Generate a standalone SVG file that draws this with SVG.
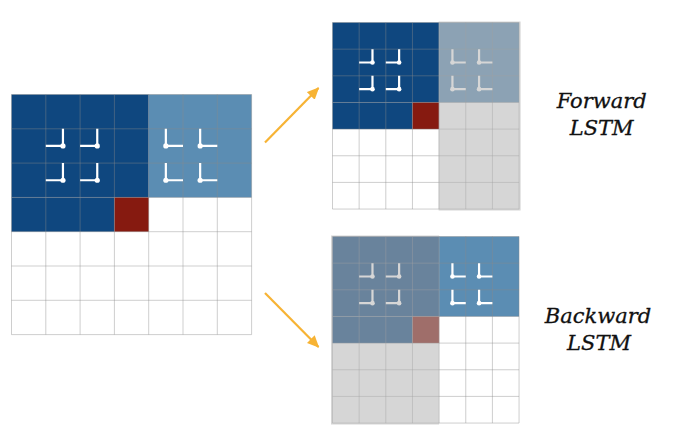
<svg xmlns="http://www.w3.org/2000/svg" width="681" height="438" viewBox="0 0 681 438">
<defs>
<style>
.bg{fill:#ffffff}
.dk{fill:#0f477f}
.lt{fill:#5b8db3}
.rd{fill:#861a10}
.gl{fill:none;stroke:#8a8a8a;stroke-opacity:0.42;stroke-width:1}
.gy{fill:none;stroke:#ffffff;stroke-width:2.2;stroke-linecap:butt}
.dot{fill:#ffffff}
.ov{fill:#b5b5b5;fill-opacity:0.55}
.arr{fill:none;stroke:#f7b334;stroke-width:2.2}
.lbl{font-family:"DejaVu Serif",serif;font-style:italic;font-size:21px;fill:#111111;stroke:#111111;stroke-width:0.3;text-anchor:middle}
</style>
<marker id="ah" markerUnits="userSpaceOnUse" markerWidth="12" markerHeight="12" viewBox="0 0 12 12" refX="11" refY="6" orient="auto">
<path d="M0,0.5 L12,6 L0,11.5 z" fill="#f7b334"/>
</marker>
</defs>
<rect width="681" height="438" fill="#ffffff"/>

<g id="input-grid">
<rect class="bg" x="11.5" y="94.5" width="240.1" height="240.1"/>
<rect class="dk" x="11.5" y="94.5" width="137.2" height="102.9"/>
<rect class="dk" x="11.5" y="197.4" width="102.9" height="34.3"/>
<rect class="rd" x="114.4" y="197.4" width="34.3" height="34.3"/>
<rect class="lt" x="148.7" y="94.5" width="102.9" height="102.9"/>
<path class="gl" d="M11.5,94.5V334.6M45.8,94.5V334.6M80.1,94.5V334.6M114.4,94.5V334.6M148.7,94.5V334.6M183,94.5V334.6M217.3,94.5V334.6M251.6,94.5V334.6M11.5,94.5H251.6M11.5,128.8H251.6M11.5,163.1H251.6M11.5,197.4H251.6M11.5,231.7H251.6M11.5,266H251.6M11.5,300.3H251.6M11.5,334.6H251.6"/>
<path class="gy" d="M45.8,145.95H62.95V128.8M80.1,145.95H97.25V128.8M45.8,180.25H62.95V163.1M80.1,180.25H97.25V163.1M165.85,128.8V145.95H183M200.15,128.8V145.95H217.3M165.85,163.1V180.25H183M200.15,163.1V180.25H217.3"/>
<g class="dot">
<circle cx="62.95" cy="145.95" r="2.6"/><circle cx="97.25" cy="145.95" r="2.6"/>
<circle cx="62.95" cy="180.25" r="2.6"/><circle cx="97.25" cy="180.25" r="2.6"/>
<circle cx="165.85" cy="145.95" r="2.6"/><circle cx="200.15" cy="145.95" r="2.6"/>
<circle cx="165.85" cy="180.25" r="2.6"/><circle cx="200.15" cy="180.25" r="2.6"/>
</g>
</g>

<g id="forward-grid">
<rect class="bg" x="332.5" y="22.5" width="186.55" height="186.55"/>
<rect class="dk" x="332.5" y="22.5" width="106.6" height="79.95"/>
<rect class="dk" x="332.5" y="102.45" width="79.95" height="26.65"/>
<rect class="rd" x="412.45" y="102.45" width="26.65" height="26.65"/>
<rect class="lt" x="439.1" y="22.5" width="79.95" height="79.95"/>
<path class="gl" d="M332.5,22.5V209.05M359.15,22.5V209.05M385.8,22.5V209.05M412.45,22.5V209.05M439.1,22.5V209.05M465.75,22.5V209.05M492.4,22.5V209.05M519.05,22.5V209.05M332.5,22.5H519.05M332.5,49.15H519.05M332.5,75.8H519.05M332.5,102.45H519.05M332.5,129.1H519.05M332.5,155.75H519.05M332.5,182.4H519.05M332.5,209.05H519.05"/>
<path class="gy" d="M359.15,62.475H372.475V49.15M385.8,62.475H399.125V49.15M359.15,89.125H372.475V75.8M385.8,89.125H399.125V75.8M452.425,49.15V62.475H465.75M479.075,49.15V62.475H492.4M452.425,75.8V89.125H465.75M479.075,75.8V89.125H492.4"/>
<g class="dot">
<circle cx="372.475" cy="62.475" r="2.3"/><circle cx="399.125" cy="62.475" r="2.3"/>
<circle cx="372.475" cy="89.125" r="2.3"/><circle cx="399.125" cy="89.125" r="2.3"/>
<circle cx="452.425" cy="62.475" r="2.3"/><circle cx="479.075" cy="62.475" r="2.3"/>
<circle cx="452.425" cy="89.125" r="2.3"/><circle cx="479.075" cy="89.125" r="2.3"/>
</g>
<rect class="ov" x="438.6" y="21.5" width="82" height="189"/>
</g>

<g id="backward-grid">
<rect class="bg" x="332.5" y="236.5" width="186.55" height="186.55"/>
<rect class="dk" x="332.5" y="236.5" width="106.6" height="79.95"/>
<rect class="dk" x="332.5" y="316.45" width="79.95" height="26.65"/>
<rect class="rd" x="412.45" y="316.45" width="26.65" height="26.65"/>
<rect class="lt" x="439.1" y="236.5" width="79.95" height="79.95"/>
<path class="gl" d="M332.5,236.5V423.05M359.15,236.5V423.05M385.8,236.5V423.05M412.45,236.5V423.05M439.1,236.5V423.05M465.75,236.5V423.05M492.4,236.5V423.05M519.05,236.5V423.05M332.5,236.5H519.05M332.5,263.15H519.05M332.5,289.8H519.05M332.5,316.45H519.05M332.5,343.1H519.05M332.5,369.75H519.05M332.5,396.4H519.05M332.5,423.05H519.05"/>
<path class="gy" d="M359.15,276.475H372.475V263.15M385.8,276.475H399.125V263.15M359.15,303.125H372.475V289.8M385.8,303.125H399.125V289.8M452.425,263.15V276.475H465.75M479.075,263.15V276.475H492.4M452.425,289.8V303.125H465.75M479.075,289.8V303.125H492.4"/>
<g class="dot">
<circle cx="372.475" cy="276.475" r="2.3"/><circle cx="399.125" cy="276.475" r="2.3"/>
<circle cx="372.475" cy="303.125" r="2.3"/><circle cx="399.125" cy="303.125" r="2.3"/>
<circle cx="452.425" cy="276.475" r="2.3"/><circle cx="479.075" cy="276.475" r="2.3"/>
<circle cx="452.425" cy="303.125" r="2.3"/><circle cx="479.075" cy="303.125" r="2.3"/>
</g>
<rect class="ov" x="331" y="235.5" width="108.1" height="189"/>
</g>

<g id="connectors">
<path class="arr" d="M265,142.5L318.5,88" marker-end="url(#ah)"/>
<path class="arr" d="M265,293L318.5,347" marker-end="url(#ah)"/>
</g>

<g id="label-forward">
<text class="lbl" x="601.7" y="107.5">Forward</text>
<text class="lbl" x="601.7" y="135">LSTM</text>
</g>
<g id="label-backward">
<text class="lbl" x="598" y="322.5">Backward</text>
<text class="lbl" x="599" y="350">LSTM</text>
</g>
</svg>
